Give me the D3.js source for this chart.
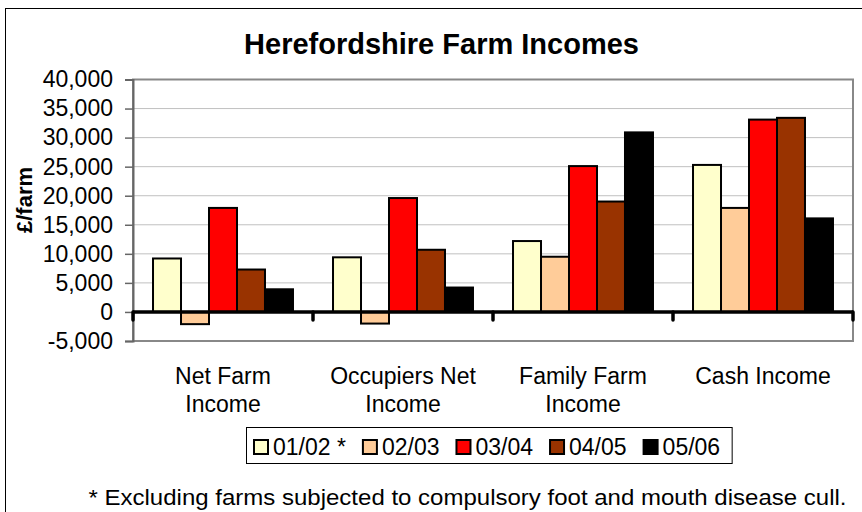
<!DOCTYPE html>
<html lang="en">
<head>
	<meta charset="utf-8">
	<title>Herefordshire Farm Incomes</title>
	<script src="https://cdn.jsdelivr.net/npm/d3@7"></script>
	<style>
		html, body { margin: 0; padding: 0; background: #fff; }
		svg { display: block; font-family: "Liberation Sans", Arial, sans-serif; }
	</style>
</head>
<body>
	<div id="chart"></div>
	<script>
		// categories and their two-line axis labels
		const categories = ["Net Farm Income", "Occupiers Net Income", "Family Farm Income", "Cash Income"];
		const categoryLines = [["Net Farm", "Income"], ["Occupiers Net", "Income"], ["Family Farm", "Income"], ["Cash Income"]];

		// series (years)
		const years = ["01/02 *", "02/03", "03/04", "04/05", "05/06"];
		const colours = ["#FFFFCC", "#FFCC99", "#FF0000", "#993300", "#000000"];

		// values in £/farm, one array per year, in category order
		const y0102 = [9200, 9400, 12200, 25300];
		const y0203 = [-2100, -2000, 9500, 17900];
		const y0304 = [17900, 19600, 25100, 33100];
		const y0405 = [7300, 10700, 19000, 33400];
		const y0506 = [3900, 4200, 30900, 16100];
		const seriesValues = [y0102, y0203, y0304, y0405, y0506];

		const yTicks = [-5000, 0, 5000, 10000, 15000, 20000, 25000, 30000, 35000, 40000];

		const W = 862, H = 512;
		const plot = {left: 133, right: 853, top: 79.5, bottom: 341};

		const svg = d3.select("#chart").append("svg")
			.attr("width", W)
			.attr("height", H);

		// outer chart frame (only left and top edges fall inside the picture)
		svg.append("rect")
			.attr("x", 5.5).attr("y", 8.5)
			.attr("width", W + 20).attr("height", H + 20)
			.attr("fill", "#fff")
			.attr("stroke", "#000")
			.attr("stroke-width", 1);

		const x = d3.scaleBand().domain(categories).range([plot.left, plot.right]);
		const xs = d3.scaleBand().domain(years).range([0, x.bandwidth()]).paddingOuter(0.715);
		const y = d3.scaleLinear().domain([-5000, 40000]).range([plot.bottom, plot.top]);

		// gridlines
		svg.append("g")
			.selectAll("line")
			.data(yTicks.filter(d => d > -5000 && d < 40000 && d !== 0))
			.join("line")
			.attr("x1", plot.left).attr("x2", plot.right)
			.attr("y1", d => y(d)).attr("y2", d => y(d))
			.attr("stroke", "#c0c0c0")
			.attr("stroke-width", 1);

		// plot frame
		svg.append("rect")
			.attr("x", plot.left).attr("y", y(40000))
			.attr("width", plot.right - plot.left)
			.attr("height", y(-5000) - y(40000))
			.attr("fill", "none")
			.attr("stroke", "#888")
			.attr("stroke-width", 2);

		// y axis
		const yAxis = svg.append("g")
			.attr("transform", "translate(" + plot.left + ",0)")
			.call(d3.axisLeft(y)
				.tickValues(yTicks)
				.tickSize(8)
				.tickPadding(12)
				.tickFormat(d3.format(",")));
		yAxis.select(".domain").attr("stroke", "#666").attr("stroke-width", 2);
		yAxis.selectAll(".tick line").attr("stroke", "#666").attr("stroke-width", 1.5);
		yAxis.selectAll(".tick text")
			.attr("fill", "#000")
			.style("font-size", "23px")
			.text(d => d3.format(",")(d).replace("−", "-"));

		// bars
		const groups = svg.append("g")
			.selectAll("g")
			.data(years)
			.join("g")
			.attr("fill", (d, i) => colours[i]);

		groups.selectAll("rect")
			.data((yr, si) => categories.map((c, ci) => ({cat: c, year: yr, value: seriesValues[si][ci]})))
			.join("rect")
			.attr("x", d => x(d.cat) + xs(d.year))
			.attr("width", xs.bandwidth())
			.attr("y", d => y(Math.max(0, d.value)))
			.attr("height", d => Math.abs(y(d.value) - y(0)))
			.attr("stroke", "#000")
			.attr("stroke-width", 2);

		// zero line with category boundary ticks
		svg.append("line")
			.attr("x1", plot.left).attr("x2", plot.right)
			.attr("y1", y(0)).attr("y2", y(0))
			.attr("stroke", "#000")
			.attr("stroke-width", 3.5);

		const bounds = categories.map(c => x(c)).concat([plot.right]);
		svg.append("g")
			.selectAll("line")
			.data(bounds)
			.join("line")
			.attr("x1", d => d).attr("x2", d => d)
			.attr("y1", y(0)).attr("y2", y(0) + 8)
			.attr("stroke", "#000")
			.attr("stroke-width", 3.5)
			.attr("stroke-linecap", "round");

		// category labels
		svg.append("g")
			.selectAll("text")
			.data(categories)
			.join("text")
			.attr("x", d => x(d) + x.bandwidth() / 2)
			.attr("y", 383.5)
			.attr("text-anchor", "middle")
			.style("font-size", "23px")
			.selectAll("tspan")
			.data((d, i) => categoryLines[i])
			.join("tspan")
			.attr("x", function() { return this.parentNode.getAttribute("x"); })
			.attr("dy", (d, i) => i === 0 ? 0 : 28.4)
			.text(d => d);

		// title
		svg.append("text")
			.attr("x", 441.5)
			.attr("y", 53.5)
			.attr("text-anchor", "middle")
			.style("font-size", "29px")
			.style("font-weight", "bold")
			.text("Herefordshire Farm Incomes");

		// y axis label
		svg.append("text")
			.attr("transform", "translate(32,200) rotate(-90)")
			.attr("text-anchor", "middle")
			.style("font-size", "22px")
			.style("font-weight", "bold")
			.text("£/farm");

		// legend
		const legend = svg.append("g");
		const legendBox = legend.append("rect")
			.attr("x", 246.5).attr("y", 427.5)
			.attr("height", 36)
			.attr("fill", "#fff")
			.attr("stroke", "#000")
			.attr("stroke-width", 1);

		let lx = 254;
		years.forEach((yr, i) => {
			legend.append("rect")
				.attr("x", lx).attr("y", 440)
				.attr("width", 14).attr("height", 14)
				.attr("fill", colours[i])
				.attr("stroke", "#000")
				.attr("stroke-width", 2);
			const t = legend.append("text")
				.attr("x", lx + 19)
				.attr("y", 454.5)
				.style("font-size", "23px")
				.text(yr);
			lx += 19 + t.node().getComputedTextLength() + 17;
		});
		legendBox.attr("width", lx - 17 + 12 - 246.5);

		// footnote
		svg.append("text")
			.attr("x", 467.5)
			.attr("y", 504.5)
			.attr("text-anchor", "middle")
			.attr("textLength", 758)
			.attr("lengthAdjust", "spacingAndGlyphs")
			.style("font-size", "22px")
			.text("* Excluding farms subjected to compulsory foot and mouth disease cull.");
	</script>
</body>
</html>
